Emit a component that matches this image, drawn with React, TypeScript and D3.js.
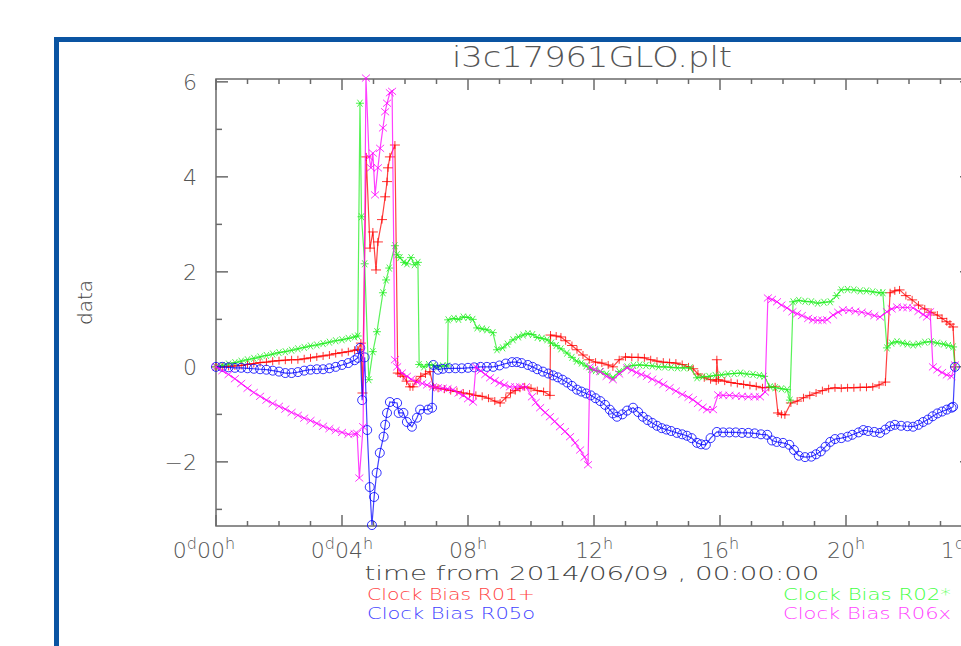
import React from "react";
import { scaleLinear, line, range } from "d3";

// ---- data (hours since 2014/06/09 00:00, clock bias) ----
const r01: [number, number][] = [
  [0,0],[0.2,0],[0.4,0.01],[0.6,0.02],[0.8,0.03],[1.0,0.05],[1.2,0.07],[1.4,0.09],[1.6,0.1],[1.8,0.12],[2.0,0.13],[2.2,0.14],[2.4,0.15],[2.6,0.15],[2.8,0.17],[3.0,0.19],[3.2,0.21],[3.4,0.23],[3.6,0.25],[3.8,0.28],[4.0,0.3],[4.2,0.32],[4.4,0.35],[4.5,0.36],
  [4.6,0.5],[4.65,-0.55],[4.77,4.42],[4.89,2.5],[4.98,2.84],[5.08,2.04],[5.14,2.63],[5.27,3.1],[5.37,3.58],[5.43,3.9],[5.46,4.19],[5.52,4.42],[5.68,4.67],
  [5.77,-0.13],[5.85,-0.15],[5.94,-0.2],[6.05,-0.3],[6.16,-0.42],[6.25,-0.42],[6.35,-0.3],[6.5,-0.2],[6.65,-0.15],[6.79,-0.1],[6.9,-0.42],
  [7.05,-0.45],[7.25,-0.47],[7.45,-0.5],[7.65,-0.52],[7.85,-0.55],[8.05,-0.57],[8.25,-0.6],[8.45,-0.62],[8.65,-0.66],[8.85,-0.72],[9.02,-0.76],[9.2,-0.65],[9.35,-0.55],[9.5,-0.5],[9.65,-0.45],[9.8,-0.42],[10.0,-0.45],[10.2,-0.5],[10.4,-0.52],[10.6,-0.6],
  [10.62,0.67],[10.8,0.65],[10.95,0.63],[11.1,0.55],[11.3,0.45],[11.46,0.36],[11.65,0.25],[11.85,0.15],[12.05,0.1],[12.25,0.08],[12.45,0.04],[12.6,0.0],[12.8,0.15],[13.0,0.21],[13.2,0.2],[13.4,0.2],[13.6,0.19],[13.8,0.15],[14.0,0.12],[14.2,0.1],[14.4,0.09],[14.6,0.08],[14.8,0.05],[15.0,0.0],[15.15,-0.04],[15.3,-0.15],[15.5,-0.23],[15.7,-0.27],[15.88,-0.3],[15.9,0.15],[15.95,-0.27],
  [16.15,-0.3],[16.35,-0.33],[16.55,-0.35],[16.75,-0.37],[16.95,-0.39],[17.15,-0.41],[17.35,-0.44],[17.55,-0.43],[17.75,-0.42],[17.84,-0.97],[17.95,-1.0],[18.06,-1.01],[18.25,-0.76],[18.45,-0.72],[18.65,-0.65],[18.85,-0.6],[19.05,-0.55],[19.25,-0.5],[19.45,-0.46],[19.65,-0.44],[19.85,-0.45],[20.05,-0.44],[20.25,-0.44],[20.45,-0.43],[20.65,-0.43],[20.85,-0.42],[21.05,-0.38],[21.25,-0.32],
  [21.4,1.56],[21.55,1.6],[21.7,1.62],[21.9,1.5],[22.1,1.41],[22.3,1.3],[22.5,1.22],[22.7,1.15],[22.9,1.09],[23.05,1.02],[23.2,0.95],[23.3,0.9],[23.4,0.84],[23.46,0.0],
];

const r02: [number, number][] = [
  [0,0],[0.2,0.03],[0.4,0.06],[0.6,0.09],[0.8,0.12],[1.0,0.15],[1.2,0.18],[1.4,0.21],[1.6,0.24],[1.8,0.27],[2.0,0.3],[2.2,0.32],[2.4,0.35],[2.6,0.38],[2.8,0.41],[3.0,0.44],[3.2,0.46],[3.4,0.49],[3.6,0.52],[3.8,0.55],[4.0,0.57],[4.2,0.6],[4.4,0.63],[4.5,0.65],
  [4.57,5.55],[4.62,3.16],[4.72,2.17],[4.85,-0.27],[4.98,0.32],[5.11,0.74],[5.3,1.56],[5.4,1.83],[5.5,2.08],[5.68,2.55],[5.75,2.36],[5.84,2.3],[5.97,2.2],[6.06,2.17],[6.19,2.3],[6.3,2.15],[6.41,2.2],
  [6.45,0.05],[6.6,0.0],[6.75,0.05],[6.9,0.03],[7.05,0.0],[7.2,0.02],[7.35,0.02],
  [7.37,0.99],[7.55,1.02],[7.7,1.0],[7.85,1.05],[8.0,1.04],[8.15,1.0],[8.29,0.82],[8.45,0.8],[8.6,0.78],[8.79,0.72],[8.92,0.36],[9.1,0.4],[9.25,0.48],[9.43,0.57],[9.6,0.63],[9.75,0.67],[9.9,0.7],[10.05,0.68],[10.2,0.62],[10.35,0.6],[10.51,0.57],[10.65,0.5],[10.8,0.45],[10.95,0.38],[11.14,0.29],[11.3,0.2],[11.45,0.12],[11.6,0.08],[11.75,0.02],[11.9,-0.05],[12.05,-0.08],[12.2,-0.1],[12.4,-0.15],[12.6,-0.23],[12.8,-0.1],
  [13.05,0.0],[13.25,0.03],[13.45,0.04],[13.65,0.03],[13.85,0.02],[14.05,0.0],[14.25,0.0],[14.45,-0.01],[14.65,-0.02],[14.85,-0.02],[15.05,-0.02],[15.27,-0.23],[15.45,-0.21],[15.65,-0.2],[15.85,-0.18],[16.05,-0.17],[16.25,-0.15],[16.45,-0.14],[16.65,-0.13],[16.85,-0.15],[17.05,-0.16],[17.25,-0.18],[17.4,-0.2],[17.59,-0.42],[17.75,-0.44],[17.95,-0.46],[18.13,-0.48],[18.22,-0.7],
  [18.32,1.37],[18.5,1.4],[18.7,1.38],[18.9,1.37],[19.1,1.34],[19.3,1.36],[19.5,1.37],[19.7,1.5],[19.85,1.62],[20.05,1.63],[20.25,1.62],[20.45,1.6],[20.65,1.6],[20.85,1.58],[21.05,1.56],[21.17,1.56],
  [21.3,0.4],[21.45,0.5],[21.62,0.53],[21.8,0.5],[21.95,0.48],[22.13,0.46],[22.3,0.48],[22.5,0.52],[22.7,0.53],[22.9,0.5],[23.1,0.48],[23.25,0.45],[23.4,0.42],[23.46,0.0],
];

const r05: [number, number][] = [
  [0,0],[0.2,0.0],[0.4,-0.01],[0.6,-0.02],[0.8,-0.02],[1.0,-0.03],[1.2,-0.04],[1.4,-0.05],[1.6,-0.06],[1.8,-0.08],[2.0,-0.1],[2.2,-0.13],[2.4,-0.13],[2.6,-0.11],[2.8,-0.08],[3.0,-0.06],[3.2,-0.05],[3.4,-0.05],[3.6,-0.03],[3.8,0.0],[4.0,0.04],[4.2,0.08],[4.4,0.14],[4.5,0.19],
  [4.58,0.4],[4.64,-0.7],[4.72,0.2],[4.8,-1.33],[4.88,-2.53],[4.95,-3.33],[5.02,-2.74],[5.1,-2.23],[5.2,-1.81],[5.32,-1.47],[5.37,-1.22],[5.43,-0.97],[5.52,-0.74],[5.75,-0.76],[5.8,-0.97],[5.95,-0.97],[6.06,-1.16],[6.22,-1.26],[6.38,-1.07],[6.48,-0.9],[6.73,-0.9],[6.86,-0.86],
  [6.9,0.04],[7.05,-0.06],[7.2,-0.04],[7.4,-0.03],[7.6,-0.03],[7.8,-0.03],[8.0,-0.02],[8.2,-0.01],[8.4,0.0],[8.6,0.0],[8.8,0.0],[9.0,0.03],[9.2,0.07],[9.4,0.1],[9.55,0.1],[9.7,0.08],[9.9,0.04],[10.05,0.0],[10.2,-0.05],[10.38,-0.1],[10.55,-0.14],[10.7,-0.18],[10.85,-0.22],[11.0,-0.27],[11.15,-0.33],[11.3,-0.4],[11.46,-0.48],[11.6,-0.52],[11.75,-0.56],[11.9,-0.6],[12.05,-0.66],[12.2,-0.72],[12.35,-0.8],[12.5,-0.9],[12.6,-0.98],[12.73,-1.05],[12.9,-1.0],[13.05,-0.92],[13.24,-0.86],[13.4,-0.95],[13.55,-1.05],[13.7,-1.12],[13.85,-1.18],[14.0,-1.24],[14.15,-1.29],[14.3,-1.32],[14.45,-1.35],[14.63,-1.39],[14.8,-1.42],[14.95,-1.45],[15.1,-1.5],[15.27,-1.6],[15.4,-1.63],[15.55,-1.64],[15.7,-1.5],[15.9,-1.37],
  [16.1,-1.38],[16.3,-1.38],[16.5,-1.38],[16.7,-1.39],[16.9,-1.39],[17.1,-1.4],[17.3,-1.42],[17.5,-1.43],[17.65,-1.55],[17.8,-1.58],[18.0,-1.6],[18.2,-1.64],[18.35,-1.75],[18.5,-1.87],[18.7,-1.9],[18.9,-1.89],[19.05,-1.84],[19.2,-1.78],[19.35,-1.68],[19.5,-1.58],[19.65,-1.52],[19.85,-1.5],[20.05,-1.47],[20.2,-1.43],[20.4,-1.38],[20.55,-1.33],[20.7,-1.35],[20.9,-1.37],[21.08,-1.39],[21.25,-1.32],[21.4,-1.25],[21.55,-1.22],[21.75,-1.24],[21.95,-1.25],[22.13,-1.26],[22.3,-1.22],[22.45,-1.16],[22.6,-1.11],[22.75,-1.04],[22.9,-0.98],[23.05,-0.94],[23.2,-0.9],[23.35,-0.86],[23.4,-0.84],[23.46,0.0],
];

const r06: [number, number][] = [
  [0,0],[0.2,-0.08],[0.4,-0.16],[0.6,-0.25],[0.8,-0.35],[1.0,-0.45],[1.2,-0.54],[1.4,-0.62],[1.6,-0.7],[1.8,-0.77],[2.0,-0.83],[2.2,-0.89],[2.4,-0.96],[2.6,-1.02],[2.8,-1.08],[3.0,-1.13],[3.2,-1.19],[3.4,-1.25],[3.6,-1.3],[3.8,-1.34],[4.0,-1.38],[4.2,-1.42],[4.4,-1.41],[4.48,-1.4],
  [4.55,-2.34],[4.67,-1.26],[4.76,6.08],[4.86,4.42],[4.92,4.19],[4.98,4.5],[5.05,3.62],[5.14,4.19],[5.21,4.6],[5.3,5.03],[5.37,5.37],[5.43,5.55],[5.52,5.77],[5.59,5.8],
  [5.68,0.15],[5.75,0.0],[5.9,-0.13],[6.06,-0.2],[6.2,-0.26],[6.38,-0.32],[6.55,-0.35],[6.7,-0.38],[6.89,-0.42],[7.05,-0.44],[7.2,-0.45],[7.35,-0.46],[7.52,-0.48],[7.7,-0.55],[7.85,-0.6],[8.0,-0.67],[8.16,-0.74],
  [8.25,0.0],[8.4,-0.08],[8.55,-0.16],[8.7,-0.23],[8.85,-0.29],[9.0,-0.34],[9.15,-0.38],[9.33,-0.42],[9.5,-0.42],[9.65,-0.42],[9.84,-0.42],[10.03,-0.63],[10.15,-0.75],[10.29,-0.86],[10.45,-0.96],[10.6,-1.05],[10.75,-1.15],[10.92,-1.26],[11.08,-1.36],[11.24,-1.47],[11.4,-1.6],[11.56,-1.75],[11.7,-1.9],[11.81,-2.06],
  [11.87,0.0],[12.0,-0.06],[12.19,-0.1],[12.4,-0.2],[12.6,-0.27],[12.8,-0.15],[13.05,-0.02],[13.2,-0.07],[13.35,-0.12],[13.5,-0.16],[13.68,-0.2],[13.85,-0.26],[14.05,-0.32],[14.2,-0.37],[14.4,-0.44],[14.6,-0.51],[14.8,-0.58],[15.0,-0.64],[15.14,-0.69],[15.3,-0.77],[15.45,-0.85],[15.59,-0.9],[15.78,-0.9],[15.94,-0.59],[16.1,-0.6],[16.3,-0.6],[16.5,-0.61],[16.7,-0.62],[16.9,-0.63],[17.1,-0.63],[17.27,-0.63],[17.43,-0.53],
  [17.52,1.45],[17.65,1.42],[17.81,1.37],[17.95,1.3],[18.13,1.24],[18.3,1.16],[18.45,1.12],[18.6,1.08],[18.8,1.02],[18.95,0.99],[19.1,0.98],[19.25,0.98],[19.4,0.99],[19.59,1.09],[19.75,1.15],[19.9,1.2],[20.1,1.19],[20.3,1.17],[20.5,1.15],[20.7,1.12],[20.9,1.08],[21.08,1.05],[21.3,1.16],[21.45,1.22],[21.62,1.26],[21.8,1.25],[21.95,1.25],[22.13,1.24],[22.3,1.17],[22.45,1.1],[22.57,1.05],[22.67,1.16],
  [22.76,0.0],[22.9,-0.06],[23.05,-0.12],[23.2,-0.17],[23.35,-0.2],[23.46,0.04],
];

const yTicks = [-2, 0, 2, 4, 6];
const xMajor = [0, 4, 8, 12, 16, 20, 24];
const xLabels = [["0", "d", "00", "h"], ["0", "d", "04", "h"], ["", "", "08", "h"], ["", "", "12", "h"], ["", "", "16", "h"], ["", "", "20", "h"], ["1", "d", "00", "h"]];

type Marker = "plus" | "star" | "circle" | "cross";
const series = [
  { name: "Clock Bias R01+", data: r01, color: "#ff0000", text: "#ff4444", marker: "plus" as Marker },
  { name: "Clock Bias R02*", data: r02, color: "#22ee22", text: "#44ff44", marker: "star" as Marker },
  { name: "Clock Bias R05o", data: r05, color: "#0000ff", text: "#4444ff", marker: "circle" as Marker },
  { name: "Clock Bias R06x", data: r06, color: "#ff00ff", text: "#ff44ff", marker: "cross" as Marker },
];

const W = 961, H = 646;
const left = 216, right = 972, top = 79, bottom = 526;
const FONT = "'DejaVu Sans', 'Liberation Sans', sans-serif";
const AX = "#6a6a6a";

function markerPath(m: Marker, x: number, y: number) {
  if (m === "plus") return `M${x - 5},${y}H${x + 5}M${x},${y - 4}V${y + 4}`;
  if (m === "cross") return `M${x - 4},${y - 3.5}L${x + 4},${y + 3.5}M${x - 4},${y + 3.5}L${x + 4},${y - 3.5}`;
  if (m === "star") return `M${x - 4},${y}H${x + 4}M${x - 2.5},${y - 3.5}L${x + 2.5},${y + 3.5}M${x - 2.5},${y + 3.5}L${x + 2.5},${y - 3.5}`;
  return "";
}

export default function App() {
  const x = scaleLinear().domain([0, 24]).range([left, right]);
  const y = scaleLinear().domain([-3.35, 6.06]).range([bottom, top]);
  const path = line<[number, number]>().x(d => x(d[0])).y(d => y(d[1]));

  const hourTicks = range(0, 25);
  const yMinor = range(-3, 7);

  return (
    <svg width={W} height={H} style={{ position: "absolute", left: 0, top: 0, background: "#fff" }} fontFamily={FONT}>
      <rect x={56.5} y={39.5} width={W} height={H} fill="#fff" stroke="#0a54a2" strokeWidth={5} />

      <text x={592} y={67} textAnchor="middle" fontSize={29} fill="#555" fontWeight={200} textLength={280} lengthAdjust="spacingAndGlyphs">i3c17961GLO.plt</text>

      {/* frame */}
      <rect x={left} y={top} width={right - left} height={bottom - top} fill="none" stroke={AX} strokeWidth={1.5} />

      {/* x ticks */}
      {hourTicks.map(h => {
        const len = h % 4 === 0 ? 11 : 5;
        return (
          <g key={"xt" + h} stroke={AX} strokeWidth={1.5}>
            <line x1={x(h)} x2={x(h)} y1={bottom} y2={bottom - len} />
            <line x1={x(h)} x2={x(h)} y1={top} y2={top + len} />
          </g>
        );
      })}
      {/* y ticks */}
      {yMinor.map(v => {
        const len = v % 2 === 0 ? 12 : 6;
        return (
          <g key={"yt" + v} stroke={AX} strokeWidth={1.5}>
            <line x1={left} x2={left + len} y1={y(v)} y2={y(v)} />
            <line x1={right} x2={right - len} y1={y(v)} y2={y(v)} />
          </g>
        );
      })}

      {yTicks.map(v => (
        <text key={"yl" + v} x={197} y={y(v) + 8} textAnchor="end" fontSize={22} fill="#555" fontWeight={200}>
          {v < 0 ? "\u2212" + Math.abs(v) : v}
        </text>
      ))}

      {xMajor.map((h, i) => {
        const [a, b, c, d] = xLabels[i];
        return (
          <text key={"xl" + h} x={x(h) - (i === 0 ? 12 : 0)} y={558} textAnchor="middle" fontSize={22} fill="#555" fontWeight={200}>
            {a}<tspan fontSize={16} dy={-9}>{b}</tspan><tspan dy={b ? 9 : 0}>{c}</tspan><tspan fontSize={16} dy={-9}>{d}</tspan>
          </text>
        );
      })}

      <text x={592} y={580} textAnchor="middle" fontSize={19} fill="#444" fontWeight={200} textLength={455} lengthAdjust="spacingAndGlyphs">time from 2014/06/09 , 00:00:00</text>
      <text transform={`translate(92,${(top + bottom) / 2}) rotate(-90)`} textAnchor="middle" fontSize={20} fill="#444" fontWeight={200}>data</text>

      {/* series */}
      {series.map(s => (
        <g key={s.name}>
          <path d={path(s.data) || ""} fill="none" stroke={s.color} strokeWidth={1.2} strokeOpacity={0.75} />
          {s.marker === "circle"
            ? s.data.map((d, i) => (
                <circle key={i} cx={x(d[0])} cy={y(d[1])} r={4.5} fill="none" stroke={s.color} strokeWidth={1} strokeOpacity={0.8} />
              ))
            : <path d={s.data.map(d => markerPath(s.marker, x(d[0]), y(d[1]))).join("")} fill="none" stroke={s.color} strokeWidth={1} strokeOpacity={0.8} />}
        </g>
      ))}

      {/* legend */}
      {series.map((s, i) => (
        <text key={"lg" + i} x={i % 2 === 0 ? 367 : 783} y={i < 2 ? 600 : 619} fontSize={16} fill={s.text} fontWeight={200} textLength={168} lengthAdjust="spacingAndGlyphs">
          {s.name}
        </text>
      ))}
    </svg>
  );
}
